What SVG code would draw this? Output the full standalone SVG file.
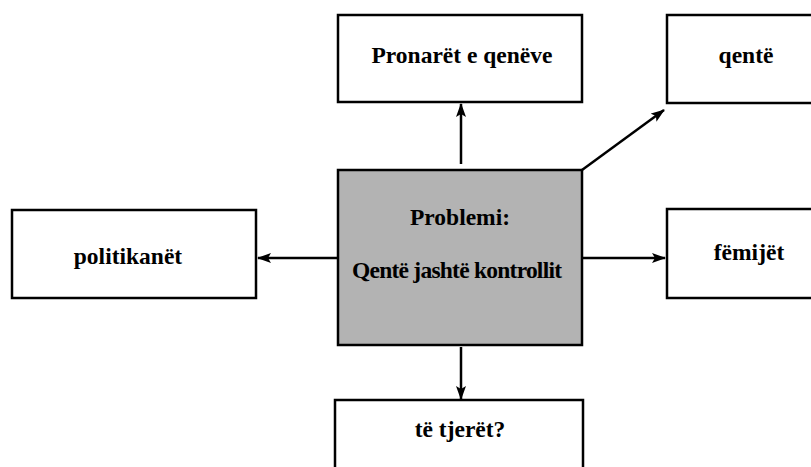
<svg xmlns="http://www.w3.org/2000/svg" width="811" height="467" viewBox="0 0 811 467">
<defs>
<style>
.box{fill:#fff;stroke:#000;stroke-width:2.5}
.center{fill:#b3b3b3;stroke:#000;stroke-width:2.5}
.lbl{font-family:"Liberation Serif","Times New Roman",serif;font-weight:bold;font-size:23.5px;fill:#000;text-anchor:middle}
.conn{stroke:#000;stroke-width:2.5;fill:none;marker-end:url(#ah)}
</style>
<marker id="ah" viewBox="0 0 14 10" refX="13" refY="5" markerWidth="14" markerHeight="10" markerUnits="userSpaceOnUse" orient="auto">
<path d="M0,0 L14,5 L0,10 L3,5 Z" fill="#000"/>
</marker>
</defs>
<rect width="811" height="467" fill="#fff"/>
<g id="connectors">
<line class="conn" x1="461" y1="164" x2="461" y2="104"/>
<line class="conn" x1="582" y1="170" x2="664" y2="110"/>
<line class="conn" x1="338" y1="258" x2="258" y2="258"/>
<line class="conn" x1="582" y1="258" x2="665" y2="258"/>
<line class="conn" x1="461" y1="347" x2="461" y2="399"/>
</g>
<g id="owners">
<rect class="box" x="338" y="15" width="244" height="87"/>
<text class="lbl" x="462" y="63">Pronarët e qenëve</text>
</g>
<g id="dogs">
<rect class="box" x="667" y="15" width="170" height="88"/>
<text class="lbl" x="746" y="63">qentë</text>
</g>
<g id="problem">
<rect class="center" x="338" y="170" width="244" height="175"/>
<text class="lbl" x="460" y="225">Problemi:</text>
<text class="lbl" x="457" y="278" textLength="210" lengthAdjust="spacing">Qentë jashtë kontrollit</text>
</g>
<g id="politicians">
<rect class="box" x="12" y="210" width="244" height="88"/>
<text class="lbl" x="128" y="264">politikanët</text>
</g>
<g id="children">
<rect class="box" x="667" y="209" width="170" height="89"/>
<text class="lbl" x="749" y="260">fëmijët</text>
</g>
<g id="others">
<rect class="box" x="335" y="400" width="248" height="90"/>
<text class="lbl" x="460" y="437">të tjerët?</text>
</g>
</svg>
